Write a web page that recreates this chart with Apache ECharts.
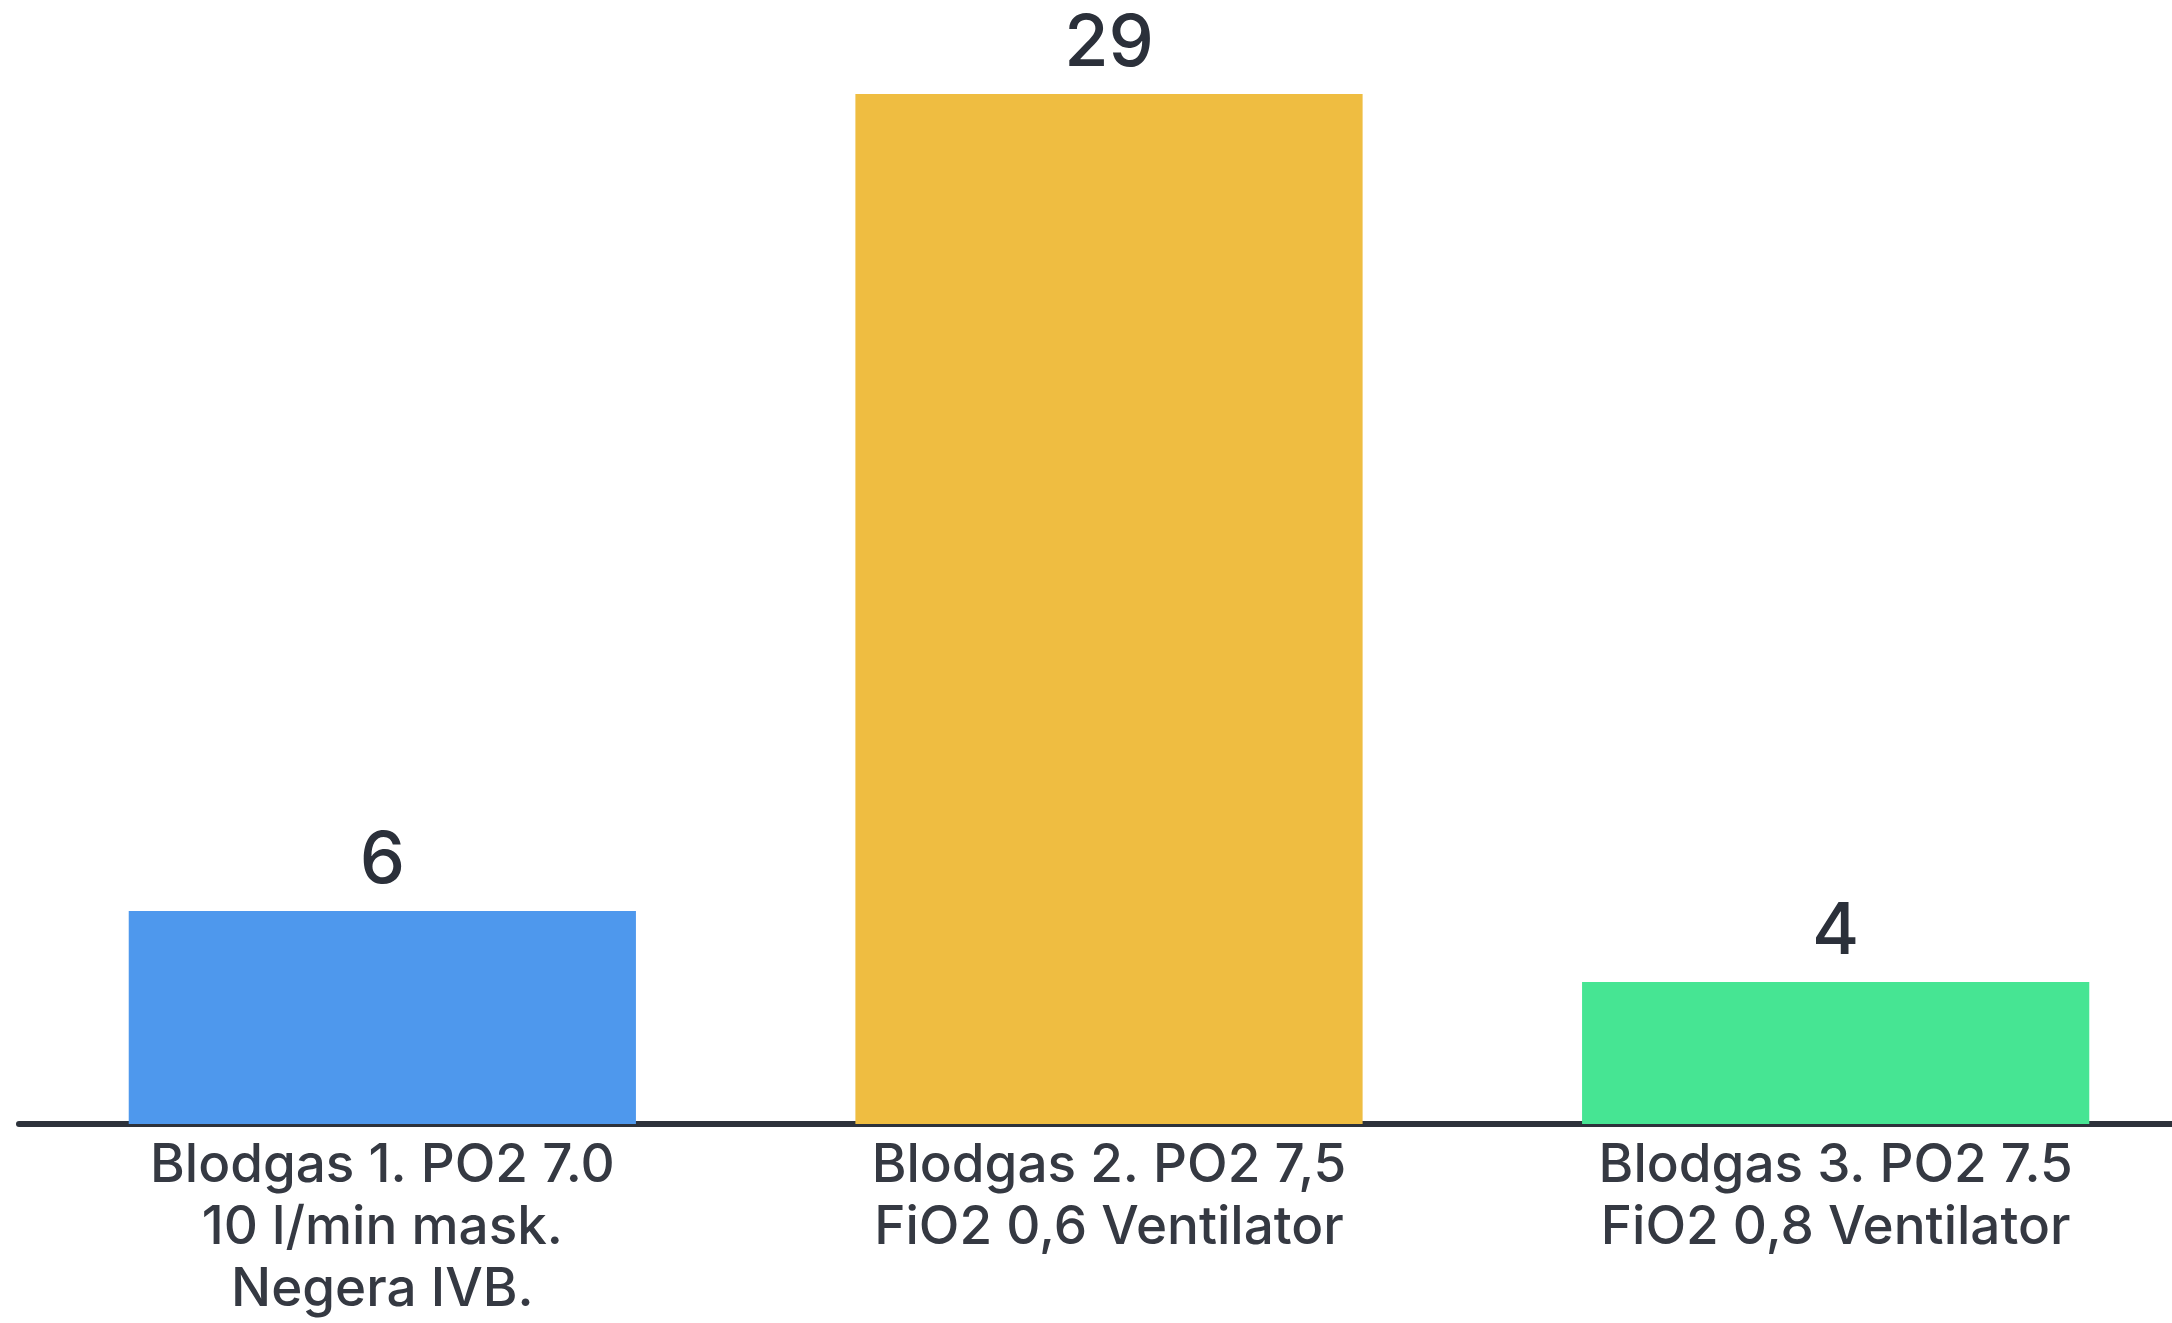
<!DOCTYPE html>
<html>
<head>
<meta charset="utf-8">
<script src="https://cdn.jsdelivr.net/npm/echarts@6/dist/echarts.min.js"></script>
<style>
  html, body { margin: 0; padding: 0; background: #ffffff; }
  #chart { width: 2172px; height: 1323px; }
</style>
</head>
<body>
<div id="chart"></div>
<script>
// Blood gas readings and the corresponding values
const categories = [
  'Blodgas 1. PO2 7.0\n10 l/min mask.\nNegera IVB.',
  'Blodgas 2. PO2 7,5\nFiO2 0,6 Ventilator',
  'Blodgas 3. PO2 7.5\nFiO2 0,8 Ventilator'
];
const values = [6, 29, 4];
const barColors = ['#4e98ed', '#efbd41', '#46e593'];

const chart = echarts.init(document.getElementById('chart'));
chart.setOption({
  backgroundColor: '#ffffff',
  animation: false,
  // plot area runs slightly past the right edge so the last bar sits close to it
  grid: { left: 19, top: 94, width: 2180, height: 1030, outerBoundsMode: 'none' },
  xAxis: {
    type: 'category',
    data: categories,
    axisTick: { show: false },
    axisLine: { lineStyle: { color: '#2d323b', width: 6 } },
    axisLabel: {
      interval: 0,
      margin: 11,
      color: '#353942',
      fontFamily: 'Inter',
      fontWeight: 500,
      fontSize: 53,
      lineHeight: 62
    }
  },
  yAxis: {
    type: 'value',
    min: 0,
    max: 29,
    show: false,
    splitLine: { show: false }
  },
  series: [{
    type: 'bar',
    data: values.map((v, i) => ({ value: v, itemStyle: { color: barColors[i] } })),
    barWidth: '69.8%',
    label: {
      show: true,
      position: 'top',
      distance: 14,
      color: '#2b303a',
      fontFamily: 'Inter',
      fontWeight: 500,
      fontSize: 72
    }
  }]
});
</script>
</body>
</html>
